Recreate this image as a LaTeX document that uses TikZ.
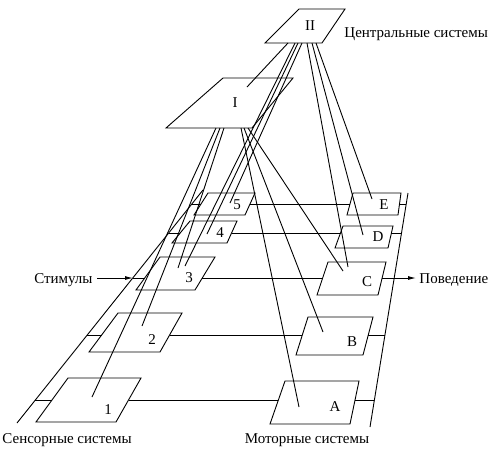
\documentclass[tikz,border=0pt]{standalone}
\usepackage{fontspec}
\setmainfont{Liberation Serif}
\usetikzlibrary{arrows.meta}

\begin{document}
\begin{tikzpicture}[
    x=1pt, y=-1pt,
    line width=0.9pt,
    every node/.style={font=\fontsize{15}{18}\selectfont, inner sep=0pt},
    feld/.style={draw, line join=miter},
    pfeil/.style={-{Latex[length=8pt, width=4pt]}},
  ]
  \useasboundingbox (0,0) rectangle (502,448);

  % Zentrale Systeme
  \draw[feld] (299,9) -- (345,9) -- (322,43) -- (265,43) -- cycle;
  \node (zII) at (310,26) {II};
  \draw[feld] (223,78) -- (293,78) -- (252,128) -- (166,128) -- cycle;
  \node (zI) at (235,103) {I};
  \node[anchor=base west] (zentral) at (344,37) {Центральные системы};

  % Sensorische Felder
  \draw[feld] (68,378) -- (141,378) -- (116,422) -- (36,422) -- cycle;
  \node (s1) at (108,410) {1};
  \draw[feld] (118,313) -- (182,313) -- (160,352) -- (89,352) -- cycle;
  \node (s2) at (152,340) {2};
  \draw[feld] (160,257) -- (215,257) -- (195,290) -- (136,290) -- cycle;
  \node (s3) at (189,278) {3};
  \draw[feld] (190,221) -- (237,221) -- (227,243) -- (172,243) -- cycle;
  \node (s4) at (220,233) {4};
  \draw[feld] (208,193) -- (255,193) -- (245,215) -- (194,215) -- cycle;
  \node (s5) at (237,205) {5};

  % Motorische Felder
  \draw[feld] (285,381) -- (359,381) -- (350,424) -- (270,424) -- cycle;
  \node (mA) at (335,407) {A};
  \draw[feld] (308,317) -- (373,317) -- (363,355) -- (296,355) -- cycle;
  \node (mB) at (352,342) {B};
  \draw[feld] (328,262) -- (386,262) -- (378,295) -- (317,295) -- cycle;
  \node (mC) at (367,282) {C};
  \draw[feld] (343,226) -- (393,226) -- (388,248) -- (335,248) -- cycle;
  \node (mD) at (378,237) {D};
  \draw[feld] (353,193) -- (401,193) -- (398,215) -- (347,215) -- cycle;
  \node (mE) at (384,205) {E};

  % Schienen
  \coordinate (sUnten) at (17,423);
  \coordinate (sOben) at (203,190);
  \coordinate (mUnten) at (370,427);
  \coordinate (mOben) at (408,193);
  \draw (sUnten) -- (sOben);
  \draw (mUnten) -- (mOben);

  % Querverbindungen
  \coordinate (rs1) at (35.4,400);  \coordinate (ls1) at (52,400);
  \coordinate (rs2) at (87.4,335);  \coordinate (ls2) at (101.6,335);
  \coordinate (rs3) at (133,278);   \coordinate (ls3) at (144.7,278);
  \coordinate (rs4) at (169,233);   \coordinate (ls4) at (180.2,233);
  \coordinate (rs5) at (192.2,204); \coordinate (ls5) at (201,204);
  \coordinate (re1) at (128.5,400); \coordinate (leA) at (278.4,400);
  \coordinate (re2) at (169.6,335); \coordinate (leB) at (302.3,335);
  \coordinate (re3) at (202.3,278); \coordinate (leC) at (322.7,278);
  \coordinate (re4) at (231.5,233); \coordinate (leD) at (340.5,233);
  \coordinate (re5) at (250,204);   \coordinate (leE) at (350,204);
  \coordinate (reA) at (355,400);   \coordinate (rmA) at (374.4,400);
  \coordinate (reB) at (368.3,335); \coordinate (rmB) at (384.9,335);
  \coordinate (reC) at (382.1,278);
  \coordinate (reD) at (391.4,233); \coordinate (rmD) at (401.5,233);
  \coordinate (reE) at (399.5,204); \coordinate (rmE) at (406.2,204);
  \foreach \a/\b in {rs1/ls1, rs2/ls2, rs3/ls3, rs4/ls4, rs5/ls5,
                     re1/leA, re2/leB, re3/leC, re4/leD, re5/leE,
                     reA/rmA, reB/rmB, reD/rmD, reE/rmE}
    \draw (\a) -- (\b);

  % Ein- und Ausgang
  \node[anchor=base east] (stimul) at (93,283) {Стимулы};
  \node[anchor=base west] (verhalten) at (419,283) {Поведение};
  \draw[pfeil] (97,278) -- (rs3);
  \draw[pfeil] (reC) -- (416,278);

  \node[anchor=base west] (sensor) at (2,443) {Сенсорные системы};
  \node[anchor=base] (motor) at (307,443) {Моторные системы};

  % Bahnen von I und II
  \coordinate (uII0) at (288,43);
  \coordinate (uII3) at (295,43);
  \coordinate (uII4) at (298,43);
  \coordinate (uII5) at (302,43);
  \coordinate (uIIC) at (307,43);
  \coordinate (uIID) at (312,43);
  \coordinate (uIIE) at (316,43);
  \coordinate (uI1) at (216,128);
  \coordinate (uI2) at (220,128);
  \coordinate (uI3) at (224,128);
  \coordinate (uIA) at (241,128);
  \coordinate (uIB) at (244,128);
  \coordinate (uIC) at (248,128);
  \coordinate (eI) at (247,87);
  \coordinate (e1) at (92,397);
  \coordinate (e2) at (142,326);
  \coordinate (e3a) at (178,268);
  \coordinate (e3b) at (185,266);
  \coordinate (e4) at (207,234);
  \coordinate (e5) at (230,203);
  \coordinate (eA) at (299,407);
  \coordinate (eB) at (323,332);
  \coordinate (eCa) at (343,271);
  \coordinate (eCb) at (348,267);
  \coordinate (eD) at (363,235);
  \coordinate (eE) at (372,199);
  \foreach \a/\b in {uII0/eI, uII3/e3b, uII4/e4, uII5/e5,
                     uIIC/eCb, uIID/eD, uIIE/eE,
                     uI1/e1, uI2/e2, uI3/e3a,
                     uIA/eA, uIB/eB, uIC/eCa}
    \draw (\a) -- (\b);
\end{tikzpicture}
\end{document}
